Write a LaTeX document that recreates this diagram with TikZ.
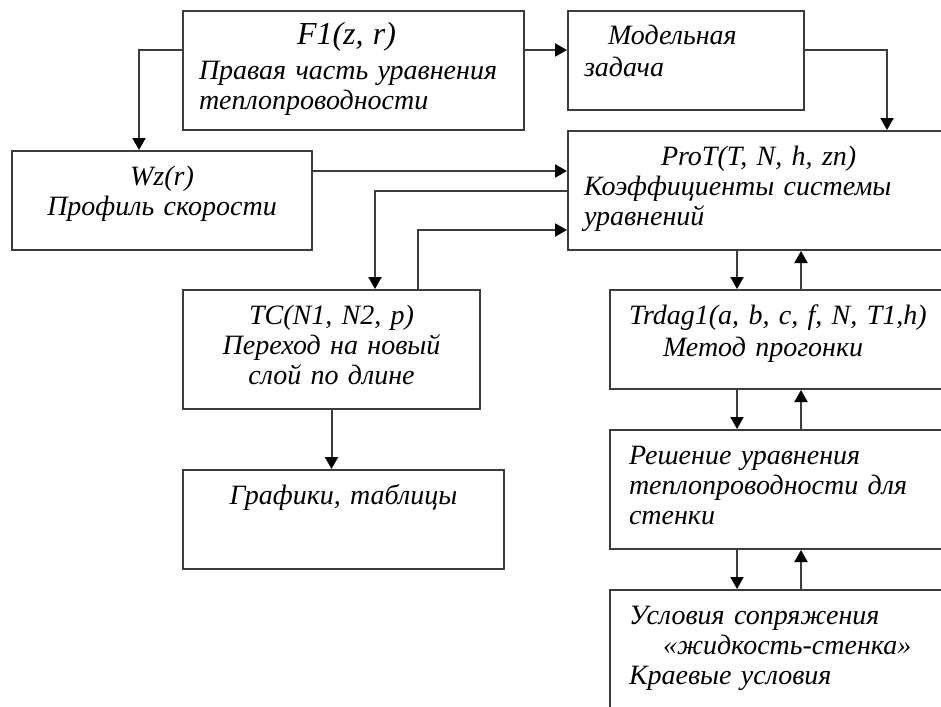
\documentclass[tikz,border=0pt]{standalone}
\usepackage{fontspec}
\setmainfont{Liberation Serif}
\usetikzlibrary{arrows.meta}
\definecolor{framegray}{RGB}{60,60,60}

\begin{document}
\begin{tikzpicture}[x=0.5pt,y=-0.5pt,
    proc/.style={draw=framegray,line width=1pt,anchor=north west,
        inner xsep=8pt,inner ysep=0pt,text height=17pt,text depth=32.5pt,
        align=left,font=\fontsize{14}{15}\selectfont\itshape},
    tall/.style={text depth=42.5pt},
    arr/.style={-{Triangle[length=6pt,width=6.5pt,color=black]},line width=1pt,framegray}]
  \useasboundingbox (0,0) rectangle (941,706);
  \clip (0,0) rectangle (941,706);
  % upper row
  \node[proc,tall,text width=154.5pt] (f1) at (182,10)
    {\hspace*{49pt}{\fontsize{16}{17}\selectfont F1(z, r)}\\[2.5pt]
     Правая часть уравнения\\теплопроводности};
  \node[proc,text width=102pt] (model) at (567,10)
    {\hspace*{12pt}Модельная\\[1pt]задача};
  \node[proc,tall,text width=190.5pt] (prot) at (567,130)
    {\hspace*{38.5pt}ProT(T, N, h, zn)\\Коэффициенты системы\\уравнений};
  \node[proc,align=center,text width=134pt] (wz) at (11,150)
    {Wz(r)\\Профиль скорости};
  % left column
  \node[proc,tall,align=center,text width=132.5pt] (tc) at (182,289)
    {TC(N1, N2, p)\\Переход на новый\\слой по длине};
  \node[proc,align=center,text width=144.5pt] (graf) at (182,469)
    {Графики, таблицы};
  % right column
  \node[proc,inner xsep=9.5pt,text width=166.5pt] (trd) at (609,289)
    {Trdag1(a, b, c, f, N, T1,h)\\[1pt]\hspace*{17pt}Метод прогонки};
  \node[proc,tall,inner xsep=9.5pt,text width=166.5pt] (res) at (609,429)
    {Решение уравнения\\теплопроводности для\\стенки};
  \node[proc,inner xsep=9.5pt,text width=166.5pt,text depth=60pt] (usl) at (609,589)
    {Условия сопряжения\\\hspace*{17pt}«жидкость-стенка»\\Краевые условия};

  \draw[arr] ([yshift=-20pt]f1.north east) -- ([yshift=-20pt]model.north west);
  \draw[arr] ([yshift=-20pt]f1.north west) -| ([xshift=-11.5pt]wz.north);
  \draw[arr] ([yshift=-20pt]model.north east) -| ([xshift=160pt]prot.north west);
  \draw[arr] ([yshift=-10.5pt]wz.north east) -- ([yshift=-20.5pt]prot.north west);
  \draw[arr] ([yshift=-30.5pt]prot.north west) -| ([xshift=21.75pt]tc.north);
  \draw[arr] ([xshift=43.25pt]tc.north) |- ([yshift=-50pt]prot.north west);
  \draw[arr] (tc.south) -- (tc.south |- graf.north);
  % solver chain
  \draw[arr] ([xshift=85pt]prot.south west) -- ([xshift=64pt]trd.north west);
  \draw[arr] ([xshift=96pt]trd.north west) -- ([xshift=117pt]prot.south west);
  \draw[arr] ([xshift=64pt]trd.south west) -- ([xshift=64pt]res.north west);
  \draw[arr] ([xshift=96pt]res.north west) -- ([xshift=96pt]trd.south west);
  \draw[arr] ([xshift=64pt]res.south west) -- ([xshift=64pt]usl.north west);
  \draw[arr] ([xshift=96pt]usl.north west) -- ([xshift=96pt]res.south west);
\end{tikzpicture}
\end{document}
